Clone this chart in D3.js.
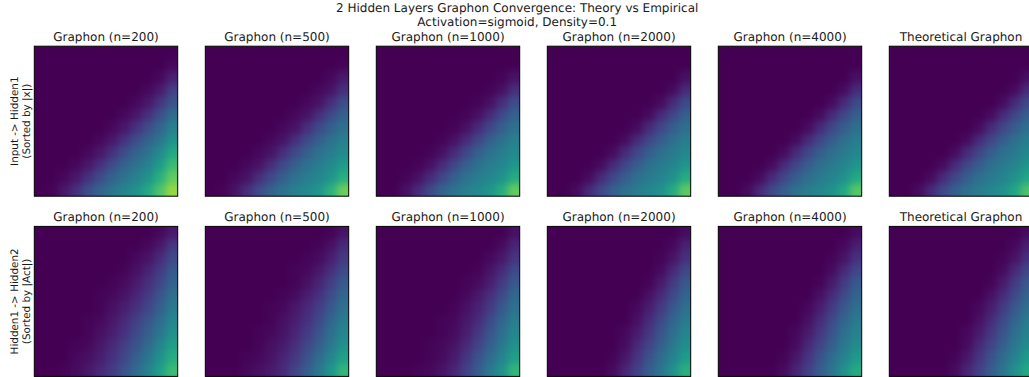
<!DOCTYPE html>
<html>
<head>
<meta charset="utf-8">
<script src="https://cdn.jsdelivr.net/npm/d3@7"></script>
<style>
  html, body { margin: 0; padding: 0; background: #fff; overflow: hidden; }
  text { font-family: "DejaVu Sans", sans-serif; fill: #1a1a1a; text-rendering: geometricPrecision; }
</style>
</head>
<body>
<div id="chart"></div>
<script>
// values, percent of the colour range, top row first
const input_n200 = [
  [0,0,0,0,0,0,0,0,0,0,0,0],
  [0,0,0,0,0,0,0,0,0,0,0,2],
  [0,0,0,0,0,0,0,0,0,0,2,9],
  [0,0,0,0,0,0,0,0,0,2,7,18],
  [0,0,0,0,0,0,0,0,2,6,15,26],
  [0,0,0,0,0,0,0,2,6,14,24,35],
  [0,0,0,0,0,0,2,6,14,23,32,43],
  [0,0,0,0,0,2,6,14,23,31,39,51],
  [0,0,0,0,2,6,14,23,31,38,47,60],
  [0,0,0,2,6,14,23,31,38,44,55,68],
  [0,0,2,6,14,23,31,38,44,51,63,76],
  [0,1,6,14,24,32,39,45,51,60,72,84]
];
const input_n500 = [
  [0,0,0,0,0,0,0,0,0,0,0,0],
  [0,0,0,0,0,0,0,0,0,0,0,1],
  [0,0,0,0,0,0,0,0,0,0,2,7],
  [0,0,0,0,0,0,0,0,0,2,5,14],
  [0,0,0,0,0,0,0,0,2,5,13,23],
  [0,0,0,0,0,0,0,2,5,13,22,31],
  [0,0,0,0,0,0,2,5,13,22,30,37],
  [0,0,0,0,0,2,5,13,22,30,37,43],
  [0,0,0,0,2,5,13,22,30,37,42,48],
  [0,0,0,2,5,13,22,30,37,42,47,55],
  [0,0,2,5,13,22,30,37,42,46,52,63],
  [0,1,5,13,23,31,38,43,47,53,64,78]
];
const input_n1000 = [
  [0,0,0,0,0,0,0,0,0,0,0,0],
  [0,0,0,0,0,0,0,0,0,0,0,0],
  [0,0,0,0,0,0,0,0,0,0,1,5],
  [0,0,0,0,0,0,0,0,0,1,4,13],
  [0,0,0,0,0,0,0,0,1,4,13,23],
  [0,0,0,0,0,0,0,1,4,12,22,31],
  [0,0,0,0,0,0,1,4,12,21,30,37],
  [0,0,0,0,0,1,4,12,21,30,37,43],
  [0,0,0,0,1,4,12,21,30,37,42,47],
  [0,0,0,1,4,12,21,30,37,42,46,53],
  [0,0,1,4,12,21,30,37,42,46,51,61],
  [0,0,4,12,22,31,38,43,47,52,62,76]
];
const input_n2000 = [
  [0,0,0,0,0,0,0,0,0,0,0,0],
  [0,0,0,0,0,0,0,0,0,0,0,0],
  [0,0,0,0,0,0,0,0,0,0,0,4],
  [0,0,0,0,0,0,0,0,0,0,3,12],
  [0,0,0,0,0,0,0,0,0,3,12,22],
  [0,0,0,0,0,0,0,0,3,12,21,30],
  [0,0,0,0,0,0,0,3,12,21,29,36],
  [0,0,0,0,0,0,3,12,21,29,36,42],
  [0,0,0,0,0,3,12,21,29,36,41,46],
  [0,0,0,0,3,12,21,29,36,41,45,52],
  [0,0,0,3,12,21,29,36,41,45,50,61],
  [0,0,3,12,22,30,37,42,46,51,61,75]
];
const input_n4000 = [
  [0,0,0,0,0,0,0,0,0,0,0,0],
  [0,0,0,0,0,0,0,0,0,0,0,0],
  [0,0,0,0,0,0,0,0,0,0,0,4],
  [0,0,0,0,0,0,0,0,0,0,3,12],
  [0,0,0,0,0,0,0,0,0,3,12,22],
  [0,0,0,0,0,0,0,0,3,12,21,30],
  [0,0,0,0,0,0,0,3,12,21,29,36],
  [0,0,0,0,0,0,3,12,21,29,36,42],
  [0,0,0,0,0,3,12,21,29,36,41,46],
  [0,0,0,0,3,12,21,29,36,41,45,52],
  [0,0,0,3,12,21,29,36,41,45,50,60],
  [0,0,3,12,22,30,37,42,46,51,60,74]
];
const input_theory = [
  [0,0,0,0,0,0,0,0,0,0,0,0],
  [0,0,0,0,0,0,0,0,0,0,0,0],
  [0,0,0,0,0,0,0,0,0,0,0,4],
  [0,0,0,0,0,0,0,0,0,0,3,12],
  [0,0,0,0,0,0,0,0,0,3,12,22],
  [0,0,0,0,0,0,0,0,3,12,21,30],
  [0,0,0,0,0,0,0,3,12,21,29,36],
  [0,0,0,0,0,0,3,12,21,29,36,42],
  [0,0,0,0,0,3,12,21,29,36,41,46],
  [0,0,0,0,3,12,21,29,36,41,45,52],
  [0,0,0,3,12,21,29,36,41,45,50,59],
  [0,0,3,12,22,30,37,42,46,51,59,72]
];
const hidden_n200 = [
  [0,0,0,0,0,0,0,0,0,0,2,7],
  [0,0,0,0,0,0,0,0,0,2,6,16],
  [0,0,0,0,0,0,0,0,2,5,12,22],
  [0,0,0,0,0,0,0,1,4,9,17,27],
  [0,0,0,0,0,0,1,3,7,13,21,31],
  [0,0,0,0,0,1,2,5,10,17,26,36],
  [0,0,0,0,0,1,4,8,14,21,30,41],
  [0,0,0,0,1,2,6,11,18,26,35,46],
  [0,0,0,0,1,4,8,14,22,30,39,50],
  [0,0,0,1,2,6,11,18,25,34,45,56],
  [0,0,0,2,4,8,14,21,30,39,50,62],
  [0,0,1,3,6,11,17,25,34,44,56,68]
];
const hidden_n500 = [
  [0,0,0,0,0,0,0,0,0,0,1,5],
  [0,0,0,0,0,0,0,0,0,1,4,12],
  [0,0,0,0,0,0,0,0,1,3,8,17],
  [0,0,0,0,0,0,0,1,2,6,13,22],
  [0,0,0,0,0,0,0,1,4,10,18,28],
  [0,0,0,0,0,0,1,3,8,14,23,33],
  [0,0,0,0,0,1,2,6,11,18,27,37],
  [0,0,0,0,0,1,4,8,14,22,32,42],
  [0,0,0,0,1,2,5,10,17,26,36,46],
  [0,0,0,0,1,4,7,13,21,30,40,50],
  [0,0,0,1,2,5,10,16,25,35,46,57],
  [0,0,0,2,4,7,12,20,29,40,52,66]
];
const hidden_n1000 = [
  [0,0,0,0,0,0,0,0,0,0,0,4],
  [0,0,0,0,0,0,0,0,0,0,3,10],
  [0,0,0,0,0,0,0,0,0,2,6,15],
  [0,0,0,0,0,0,0,0,1,5,12,22],
  [0,0,0,0,0,0,0,1,3,8,17,27],
  [0,0,0,0,0,0,0,2,6,13,22,33],
  [0,0,0,0,0,0,1,4,9,17,27,37],
  [0,0,0,0,0,1,2,6,12,22,32,42],
  [0,0,0,0,0,1,3,8,16,26,36,46],
  [0,0,0,0,1,2,5,11,20,30,40,50],
  [0,0,0,0,1,3,7,15,25,35,45,56],
  [0,0,0,1,2,5,10,19,29,40,51,66]
];
const hidden_n2000 = [
  [0,0,0,0,0,0,0,0,0,0,0,3],
  [0,0,0,0,0,0,0,0,0,0,2,9],
  [0,0,0,0,0,0,0,0,0,1,5,14],
  [0,0,0,0,0,0,0,0,0,3,11,21],
  [0,0,0,0,0,0,0,0,1,7,17,27],
  [0,0,0,0,0,0,0,0,4,12,22,32],
  [0,0,0,0,0,0,0,2,8,17,27,36],
  [0,0,0,0,0,0,0,4,12,22,32,41],
  [0,0,0,0,0,0,2,7,16,26,36,45],
  [0,0,0,0,0,0,3,11,20,30,40,49],
  [0,0,0,0,0,1,6,15,25,35,44,55],
  [0,0,0,0,0,3,10,19,29,39,50,63]
];
const hidden_n4000 = [
  [0,0,0,0,0,0,0,0,0,0,0,3],
  [0,0,0,0,0,0,0,0,0,0,2,8],
  [0,0,0,0,0,0,0,0,0,1,5,14],
  [0,0,0,0,0,0,0,0,0,3,11,21],
  [0,0,0,0,0,0,0,0,1,7,17,27],
  [0,0,0,0,0,0,0,0,4,12,22,32],
  [0,0,0,0,0,0,0,2,8,17,27,36],
  [0,0,0,0,0,0,0,4,12,22,32,41],
  [0,0,0,0,0,0,2,7,16,26,36,44],
  [0,0,0,0,0,0,3,11,20,30,40,48],
  [0,0,0,0,0,1,6,15,25,35,44,54],
  [0,0,0,0,0,3,10,19,29,39,50,61]
];
const hidden_theory = [
  [0,0,0,0,0,0,0,0,0,0,0,3],
  [0,0,0,0,0,0,0,0,0,0,2,8],
  [0,0,0,0,0,0,0,0,0,1,5,14],
  [0,0,0,0,0,0,0,0,0,3,11,21],
  [0,0,0,0,0,0,0,0,1,7,17,27],
  [0,0,0,0,0,0,0,0,4,12,22,32],
  [0,0,0,0,0,0,0,2,8,17,27,36],
  [0,0,0,0,0,0,0,4,12,22,32,41],
  [0,0,0,0,0,0,2,7,16,26,36,44],
  [0,0,0,0,0,0,3,11,20,30,40,48],
  [0,0,0,0,0,1,6,15,25,35,44,54],
  [0,0,0,0,0,3,10,19,29,39,50,60]
];

const columnTitles = ["Graphon (n=200)", "Graphon (n=500)", "Graphon (n=1000)", "Graphon (n=2000)", "Graphon (n=4000)", "Theoretical Graphon"];
const rowLabels = [["Input -> Hidden1", "(Sorted by |x|)"], ["Hidden1 -> Hidden2", "(Sorted by |Act|)"]];
const figureTitle = ["2 Hidden Layers Graphon Convergence: Theory vs Empirical", "Activation=sigmoid, Density=0.1"];
const grids = [
  [input_n200, input_n500, input_n1000, input_n2000, input_n4000, input_theory],
  [hidden_n200, hidden_n500, hidden_n1000, hidden_n2000, hidden_n4000, hidden_theory]
];

const width = 1029, height = 377;
const panelWidth = 143.4, panelHeight = 150;
const colX = d3.scaleLinear().domain([0, 1]).range([34.3, 205.3]);
const rowY = d3.scaleLinear().domain([0, 1]).range([46.2, 226.4]);
const color = d3.scaleSequential(d3.interpolateViridis).domain([0, 100]);

const svg = d3.select("#chart").append("svg")
  .attr("width", width)
  .attr("height", height)
  .style("display", "block");

const defs = svg.append("defs");
defs.append("filter")
  .attr("id", "soften")
  .attr("color-interpolation-filters", "sRGB")
  .append("feGaussianBlur")
  .attr("stdDeviation", 3.6);

const titleLines = svg.append("g").attr("text-anchor", "middle").attr("font-size", 12);
titleLines.selectAll("text")
  .data(figureTitle)
  .join("text")
  .attr("x", 517.2)
  .attr("y", (d, i) => 12.4 + i * 13.3)
  .text(d => d);

grids.forEach((row, r) => {
  row.forEach((grid, c) => {
    const x0 = colX(c), y0 = rowY(r);
    const n = grid.length;
    const xBand = d3.scaleBand().domain(d3.range(n)).range([0, panelWidth]);
    const yBand = d3.scaleBand().domain(d3.range(n)).range([0, panelHeight]);

    // cells past the edge repeat the border values so the blur doesn't fade out
    const cells = [];
    for (let j = -2; j < n + 2; j++) {
      for (let i = -2; i < n + 2; i++) {
        const ci = Math.max(0, Math.min(n - 1, i));
        const cj = Math.max(0, Math.min(n - 1, j));
        cells.push({ i, j, ci, cj, value: grid[cj][ci] });
      }
    }

    const g = svg.append("g").attr("transform", `translate(${x0},${y0})`);
    const clipId = `clip-${r}-${c}`;
    defs.append("clipPath").attr("id", clipId)
      .append("rect").attr("width", panelWidth).attr("height", panelHeight);

    g.append("g").attr("clip-path", `url(#${clipId})`)
      .append("g").attr("filter", "url(#soften)").attr("shape-rendering", "crispEdges")
      .selectAll("rect")
      .data(cells)
      .join("rect")
      .attr("x", d => xBand(d.ci) + (d.i - d.ci) * xBand.step())
      .attr("y", d => yBand(d.cj) + (d.j - d.cj) * yBand.step())
      .attr("width", xBand.step() + 1)
      .attr("height", yBand.step() + 1)
      .attr("fill", d => color(d.value));

    g.append("rect")
      .attr("width", panelWidth)
      .attr("height", panelHeight)
      .attr("fill", "none")
      .attr("stroke", "#000")
      .attr("stroke-width", 1);

    g.append("text")
      .attr("x", panelWidth / 2)
      .attr("y", -5.6)
      .attr("text-anchor", "middle")
      .attr("font-size", 12)
      .text(columnTitles[c]);
  });

  const labelY = rowY(r) + panelHeight / 2;
  const label = svg.append("g")
    .attr("transform", `translate(0,${labelY}) rotate(-90)`)
    .attr("text-anchor", "middle")
    .attr("font-size", 10.4);
  label.selectAll("text")
    .data(rowLabels[r])
    .join("text")
    .attr("x", 0)
    .attr("y", (d, i) => 17.5 + i * 12)
    .text(d => d);
});
</script>
</body>
</html>
